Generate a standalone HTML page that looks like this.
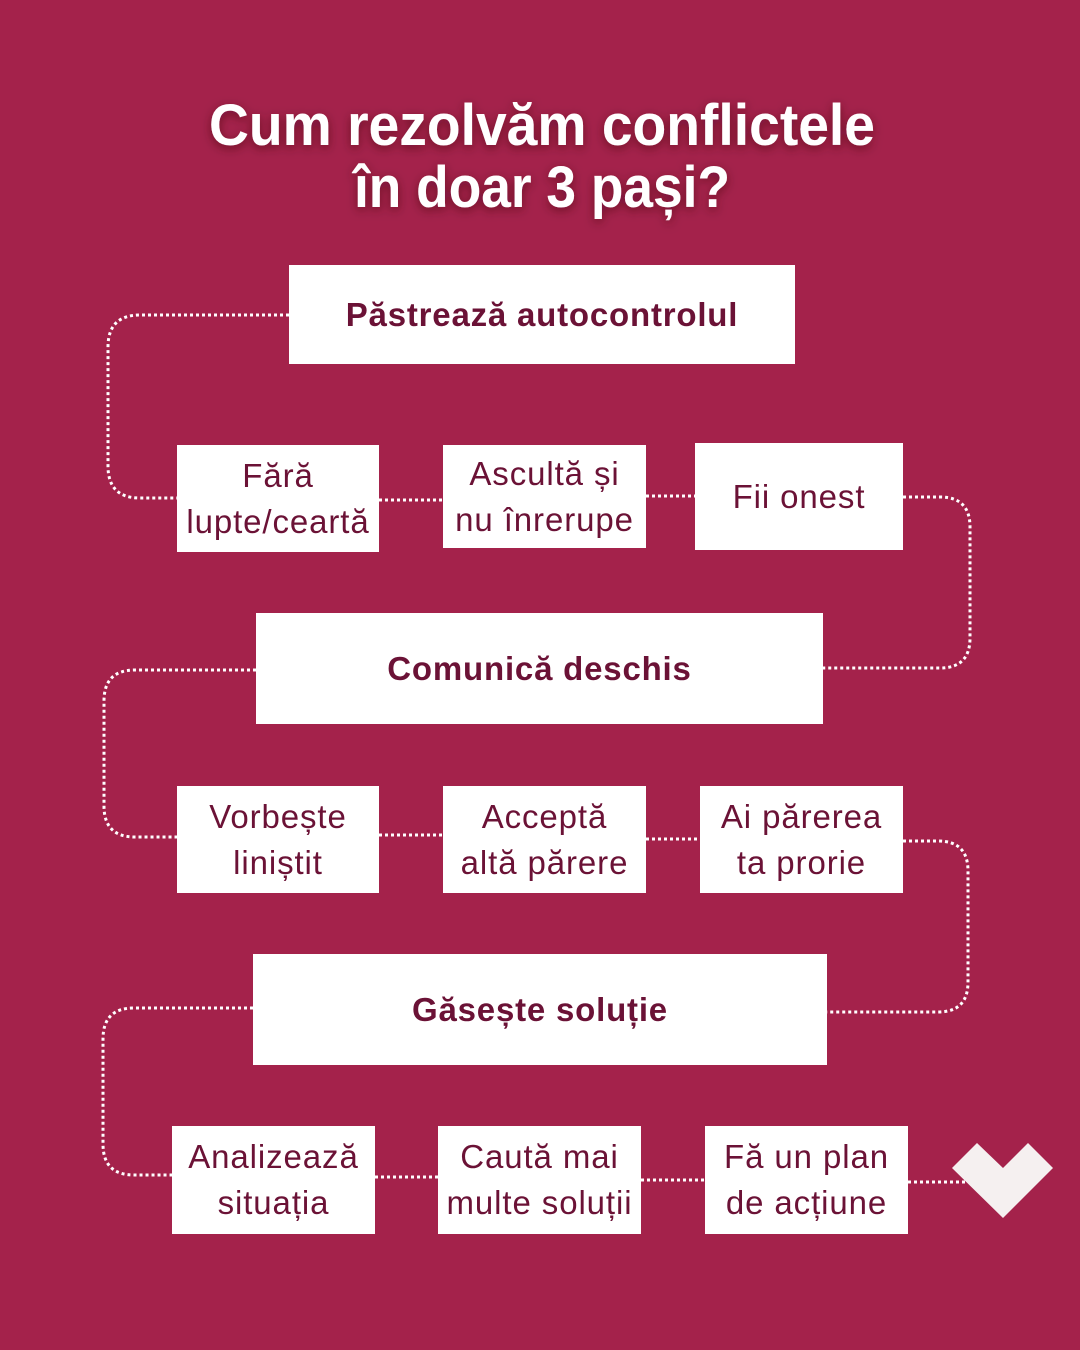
<!DOCTYPE html>
<html><head><meta charset="utf-8"><style>
html,body{margin:0;padding:0}
body{width:1080px;height:1350px;background:#A4224B;position:relative;overflow:hidden;font-family:"Liberation Sans","DejaVu Sans",sans-serif}
.b{position:absolute;background:#fff;color:#6B1236;display:flex;align-items:center;justify-content:center;text-align:center;box-sizing:border-box}
.big{font-weight:bold;font-size:33px;letter-spacing:0.8px}
.sm{font-size:33px;line-height:46px;white-space:nowrap;letter-spacing:0.9px}
svg{position:absolute;left:0;top:0}
</style></head><body>
<svg width="1080" height="1350">
<defs><filter id="sh" x="-10%" y="-30%" width="120%" height="160%"><feDropShadow dx="0" dy="3" stdDeviation="5" flood-color="#3a0015" flood-opacity="0.55"/></filter></defs>
<g filter="url(#sh)" fill="#fff" font-family="Liberation Sans, DejaVu Sans, sans-serif" font-weight="bold" font-size="58" text-anchor="middle">
<text x="542" y="145" textLength="666" lengthAdjust="spacingAndGlyphs">Cum rezolvăm conflictele</text>
<text x="542" y="207" textLength="376" lengthAdjust="spacingAndGlyphs">în doar 3 pași?</text>
</g>
<g fill="none" stroke="#fff" stroke-width="3" stroke-dasharray="3 3">
<path d="M289 315 H140 Q108 315 108 347 V466 Q108 498 140 498 H177"/>
<path d="M379 500 H443"/>
<path d="M646 496 H695"/>
<path d="M903 497 H940 Q970 497 970 527 V638 Q970 668 940 668 H823"/>
<path d="M256 670 H135 Q104 670 104 701 V806 Q104 837 135 837 H177"/>
<path d="M379 835 H443"/>
<path d="M646 839 H700"/>
<path d="M903 841 H938 Q968 841 968 871 V982 Q968 1012 938 1012 H827"/>
<path d="M253 1008 H134 Q103 1008 103 1039 V1144 Q103 1175 134 1175 H172"/>
<path d="M375 1177 H438"/>
<path d="M641 1180 H705"/>
<path d="M908 1182 H965"/>
</g>
<polygon points="952,1168 977,1143 1003,1168 1028,1143 1053,1168 1003,1218" fill="#F5F0F0"/>
</svg>
<div class="b big" style="left:289px;top:265px;width:506px;height:99px">Păstrează autocontrolul</div>
<div class="b sm" style="left:177px;top:445px;width:202px;height:107px">Fără<br>lupte/ceartă</div>
<div class="b sm" style="left:443px;top:445px;width:203px;height:103px">Ascultă și<br>nu înrerupe</div>
<div class="b sm" style="left:695px;top:443px;width:208px;height:107px">Fii onest</div>
<div class="b big" style="left:256px;top:613px;width:567px;height:111px">Comunică deschis</div>
<div class="b sm" style="left:177px;top:786px;width:202px;height:107px">Vorbește<br>liniștit</div>
<div class="b sm" style="left:443px;top:786px;width:203px;height:107px">Acceptă<br>altă părere</div>
<div class="b sm" style="left:700px;top:786px;width:203px;height:107px">Ai părerea<br>ta prorie</div>
<div class="b big" style="left:253px;top:954px;width:574px;height:111px">Găsește soluție</div>
<div class="b sm" style="left:172px;top:1126px;width:203px;height:108px">Analizează<br>situația</div>
<div class="b sm" style="left:438px;top:1126px;width:203px;height:108px">Caută mai<br>multe soluții</div>
<div class="b sm" style="left:705px;top:1126px;width:203px;height:108px">Fă un plan<br>de acțiune</div>
</body></html>
